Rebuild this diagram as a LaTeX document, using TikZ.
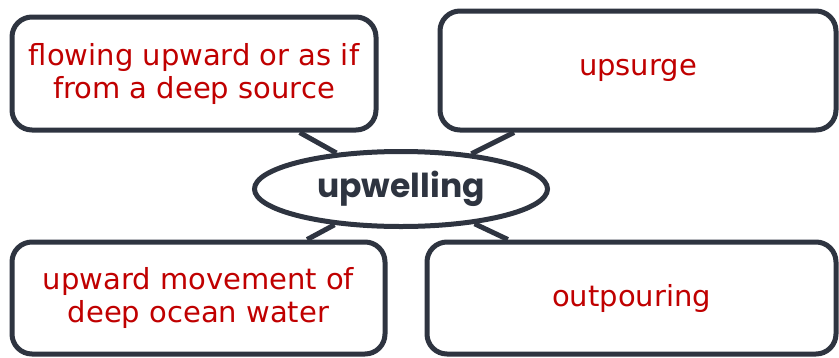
\documentclass[tikz,border=0pt]{standalone}
\usepackage{fontspec}
\setmainfont{DejaVu Sans}
\newfontfamily\hubfont{Poppins}
\usetikzlibrary{shapes.geometric,backgrounds}
\definecolor{inkgray}{HTML}{2E3440}
\definecolor{wordred}{HTML}{C00000}

\begin{document}
\begin{tikzpicture}[x=1pt, y=-1pt,
    leaf/.style={draw=inkgray, line width=5pt, rounded corners=20pt, fill=white,
        text=wordred, align=center, font=\fontsize{29}{33}\selectfont, inner sep=0pt},
    hub/.style={ellipse, draw=inkgray, line width=5pt, fill=white, text=inkgray,
        minimum width=293pt, minimum height=75pt, inner sep=0pt,
        font=\hubfont\bfseries\fontsize{33}{36}\selectfont},
    link/.style={draw=inkgray, line width=5pt}]
    \useasboundingbox (0,0) rectangle (839,357);

    \node[hub] (word) at (401,189) {upwelling};

    \node[leaf, minimum width=364pt, minimum height=113pt] (defn) at (194,73.5)
        {flowing upward or as if\\from a deep source};
    \node[leaf, minimum width=396pt, minimum height=119pt] (syna) at (638,70.5) {upsurge};
    \node[leaf, minimum width=373pt, minimum height=112pt] (ocean) at (198.5,298)
        {upward movement of\\deep ocean water};
    \node[leaf, minimum width=409pt, minimum height=112pt] (synb) at (631.5,298) {outpouring};

    \begin{scope}[on background layer]
        \draw[link] (word) -- (defn);
        \draw[link] (word) -- (syna);
        \draw[link] (word) -- (ocean);
        \draw[link] (word) -- (synb);
    \end{scope}
\end{tikzpicture}
\end{document}
